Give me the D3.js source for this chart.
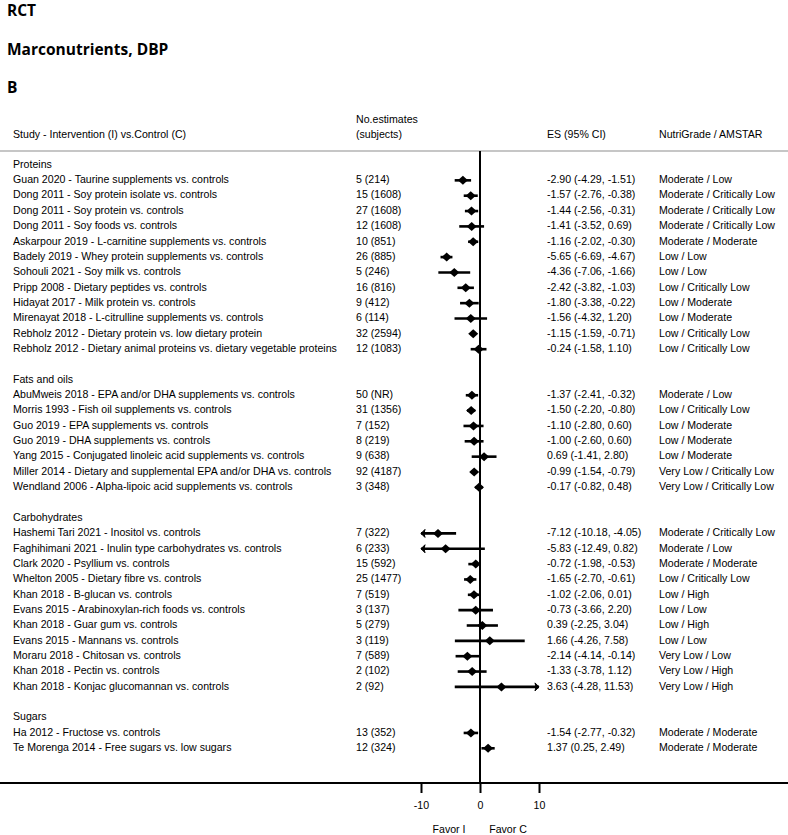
<!DOCTYPE html>
<html>
<head>
<meta charset="utf-8">
<script src="https://cdn.jsdelivr.net/npm/d3@7"></script>
<style>
  body { margin: 0; background: #fff; }
  svg { display: block; }
</style>
</head>
<body>
<script>
const groups = ["Proteins", "Fats and oils", "Carbohydrates", "Sugars"];

const studies = [
  "Guan 2020 - Taurine supplements vs. controls",
  "Dong 2011 - Soy protein isolate vs. controls",
  "Dong 2011 - Soy protein vs. controls",
  "Dong 2011 - Soy foods vs. controls",
  "Askarpour 2019 - L-carnitine supplements vs. controls",
  "Badely 2019 - Whey protein supplements vs. controls",
  "Sohouli 2021 - Soy milk vs. controls",
  "Pripp 2008 - Dietary peptides vs. controls",
  "Hidayat 2017 - Milk protein vs. controls",
  "Mirenayat 2018 - L-citrulline supplements vs. controls",
  "Rebholz 2012 - Dietary protein vs. low dietary protein",
  "Rebholz 2012 - Dietary animal proteins vs. dietary vegetable proteins",
  "AbuMweis 2018 - EPA and/or DHA supplements vs. controls",
  "Morris 1993 - Fish oil supplements vs. controls",
  "Guo 2019 - EPA supplements vs. controls",
  "Guo 2019 - DHA supplements vs. controls",
  "Yang 2015 - Conjugated linoleic acid supplements vs. controls",
  "Miller 2014 - Dietary and supplemental EPA and/or DHA vs. controls",
  "Wendland 2006 - Alpha-lipoic acid supplements vs. controls",
  "Hashemi Tari 2021 - Inositol vs. controls",
  "Faghihimani 2021 - Inulin type carbohydrates vs. controls",
  "Clark 2020 - Psyllium vs. controls",
  "Whelton 2005 - Dietary fibre vs. controls",
  "Khan 2018 - B-glucan vs. controls",
  "Evans 2015 - Arabinoxylan-rich foods vs. controls",
  "Khan 2018 - Guar gum vs. controls",
  "Evans 2015 - Mannans vs. controls",
  "Moraru 2018 - Chitosan vs. controls",
  "Khan 2018 - Pectin vs. controls",
  "Khan 2018 - Konjac glucomannan vs. controls",
  "Ha 2012 - Fructose vs. controls",
  "Te Morenga 2014 - Free sugars vs. low sugars"
];

const groupOf = [0,0,0,0,0,0,0,0,0,0,0,0, 1,1,1,1,1,1,1, 2,2,2,2,2,2,2,2,2,2,2, 3,3];

const estimates = [
  "5 (214)", "15 (1608)", "27 (1608)", "12 (1608)", "10 (851)", "26 (885)", "5 (246)",
  "16 (816)", "9 (412)", "6 (114)", "32 (2594)", "12 (1083)",
  "50 (NR)", "31 (1356)", "7 (152)", "8 (219)", "9 (638)", "92 (4187)", "3 (348)",
  "7 (322)", "6 (233)", "15 (592)", "25 (1477)", "7 (519)", "3 (137)", "5 (279)",
  "3 (119)", "7 (589)", "2 (102)", "2 (92)",
  "13 (352)", "12 (324)"
];

const es = [-2.90, -1.57, -1.44, -1.41, -1.16, -5.65, -4.36, -2.42, -1.80, -1.56, -1.15, -0.24,
  -1.37, -1.50, -1.10, -1.00, 0.69, -0.99, -0.17,
  -7.12, -5.83, -0.72, -1.65, -1.02, -0.73, 0.39, 1.66, -2.14, -1.33, 3.63,
  -1.54, 1.37];
const lower = [-4.29, -2.76, -2.56, -3.52, -2.02, -6.69, -7.06, -3.82, -3.38, -4.32, -1.59, -1.58,
  -2.41, -2.20, -2.80, -2.60, -1.41, -1.54, -0.82,
  -10.18, -12.49, -1.98, -2.70, -2.06, -3.66, -2.25, -4.26, -4.14, -3.78, -4.28,
  -2.77, 0.25];
const upper = [-1.51, -0.38, -0.31, 0.69, -0.30, -4.67, -1.66, -1.03, -0.22, 1.20, -0.71, 1.10,
  -0.32, -0.80, 0.60, 0.60, 2.80, -0.79, 0.48,
  -4.05, 0.82, -0.53, -0.61, 0.01, 2.20, 3.04, 7.58, -0.14, 1.12, 11.53,
  -0.32, 2.49];

const grades = [
  "Moderate / Low", "Moderate / Critically Low", "Moderate / Critically Low", "Moderate / Critically Low",
  "Moderate / Moderate", "Low / Low", "Low / Low", "Low / Critically Low", "Low / Moderate",
  "Low / Moderate", "Low / Critically Low", "Low / Critically Low",
  "Moderate / Low", "Low / Critically Low", "Low / Moderate", "Low / Moderate", "Low / Moderate",
  "Very Low / Critically Low", "Very Low / Critically Low",
  "Moderate / Critically Low", "Moderate / Low", "Moderate / Moderate", "Low / Critically Low",
  "Low / High", "Low / Low", "Low / High", "Low / Low", "Very Low / Low", "Very Low / High", "Very Low / High",
  "Moderate / Moderate", "Moderate / Moderate"
];

const titles = ["RCT", "Marconutrients, DBP", "B"];
const xTicks = [-10, 0, 10];
const xDomain = [-10, 10];

// build table rows: group header, studies, blank spacer between groups
const rows = [];
groups.forEach((g, gi) => {
  if (gi > 0) rows.push({ type: "blank" });
  rows.push({ type: "group", label: g });
  studies.forEach((s, i) => {
    if (groupOf[i] === gi) {
      rows.push({ type: "study", label: s, n: estimates[i], es: es[i], lo: lower[i], hi: upper[i], grade: grades[i] });
    }
  });
});

const width = 788, height = 835;
const font = "'Liberation Sans', Arial, sans-serif";
const fs = 10.6;

const svg = d3.select("body").append("svg")
  .attr("width", width)
  .attr("height", height);

const y = d3.scaleLinear().domain([0, rows.length - 1]).range([165, 165 + (rows.length - 1) * 15.35]);
const x = d3.scaleLinear().domain(xDomain).range([421, 539]);

const axisY = 783;
const headerY = 151;

// titles
svg.selectAll("text.title")
  .data(titles)
  .enter().append("text")
  .attr("class", "title")
  .attr("x", 7)
  .attr("y", (d, i) => 16 + i * 38.5)
  .style("font-family", "'Open Sans', sans-serif")
  .style("font-weight", "bold")
  .style("font-size", "15.5px")
  .text(d => d);

// column headers
const hdr = svg.append("g")
  .style("font-family", font)
  .style("font-size", fs + "px")
  .attr("dominant-baseline", "middle");
hdr.append("text").attr("x", 13).attr("y", 135).text("Study - Intervention (I) vs.Control (C)");
hdr.append("text").attr("x", 356).attr("y", 120.5).text("No.estimates");
hdr.append("text").attr("x", 356).attr("y", 135).text("(subjects)");
hdr.append("text").attr("x", 547).attr("y", 135).text("ES (95% CI)");
hdr.append("text").attr("x", 659).attr("y", 135).text("NutriGrade / AMSTAR");

svg.append("line")
  .attr("x1", 0).attr("x2", width)
  .attr("y1", headerY).attr("y2", headerY)
  .attr("stroke", "#c6c6c6")
  .attr("stroke-width", 2);

// zero line
svg.append("line")
  .attr("x1", x(0)).attr("x2", x(0))
  .attr("y1", headerY).attr("y2", axisY)
  .attr("stroke", "#000")
  .attr("stroke-width", 2);

// rows text
const rowG = svg.selectAll("g.row")
  .data(rows)
  .enter().append("g")
  .attr("class", "row")
  .attr("transform", (d, i) => `translate(0,${y(i)})`)
  .style("font-family", font)
  .style("font-size", fs + "px");

rowG.filter(d => d.type !== "blank").append("text")
  .attr("x", 13)
  .attr("dominant-baseline", "middle")
  .text(d => d.label);

const st = rowG.filter(d => d.type === "study");
st.append("text").attr("x", 356).attr("dominant-baseline", "middle").text(d => d.n);
st.append("text").attr("x", 547).attr("dominant-baseline", "middle")
  .text(d => `${d.es.toFixed(2)} (${d.lo.toFixed(2)}, ${d.hi.toFixed(2)})`);
st.append("text").attr("x", 659).attr("dominant-baseline", "middle").text(d => d.grade);

// confidence intervals, clipped to axis range
const clamp = v => Math.max(xDomain[0], Math.min(xDomain[1], v));
st.append("line")
  .attr("x1", d => x(clamp(d.lo)))
  .attr("x2", d => x(clamp(d.hi)))
  .attr("stroke", "#000")
  .attr("stroke-width", 2.6);

st.filter(d => d.lo < xDomain[0]).append("path")
  .attr("d", d => { const a = x(xDomain[0]); return `M${a},0 L${a + 4},-4 L${a + 3},0 L${a + 4},4 Z`; })
  .attr("fill", "#000").attr("stroke", "#000").attr("stroke-width", 1);
st.filter(d => d.hi > xDomain[1]).append("path")
  .attr("d", d => { const a = x(xDomain[1]); return `M${a},0 L${a - 4},-4 L${a - 3},0 L${a - 4},4 Z`; })
  .attr("fill", "#000").attr("stroke", "#000").attr("stroke-width", 1);

// point estimates
st.append("path")
  .attr("d", d => { const c = x(d.es); return `M${c - 5},0 L${c},-4.5 L${c + 5},0 L${c},4.5 Z`; })
  .attr("fill", "#000");

// bottom axis
svg.append("line")
  .attr("x1", 0).attr("x2", width)
  .attr("y1", axisY).attr("y2", axisY)
  .attr("stroke", "#000")
  .attr("stroke-width", 2);

const axis = d3.axisBottom(x).tickValues(xTicks).tickSize(10).tickPadding(8)
  .tickSizeOuter(0).tickFormat(d => String(d));
const axG = svg.append("g")
  .attr("transform", `translate(0,${axisY})`)
  .call(axis)
  .call(g => g.select(".domain").remove());
axG.selectAll(".tick line").attr("stroke", "#000").attr("stroke-width", 2);
axG.selectAll(".tick text")
  .style("font-family", font)
  .style("font-size", fs + "px")
  .attr("fill", "#000");

svg.append("text").attr("x", 449).attr("y", 830)
  .attr("text-anchor", "middle").attr("dominant-baseline", "middle")
  .style("font-family", font).style("font-size", fs + "px")
  .text("Favor I");
svg.append("text").attr("x", 508).attr("y", 830)
  .attr("text-anchor", "middle").attr("dominant-baseline", "middle")
  .style("font-family", font).style("font-size", fs + "px")
  .text("Favor C");
</script>
</body>
</html>
